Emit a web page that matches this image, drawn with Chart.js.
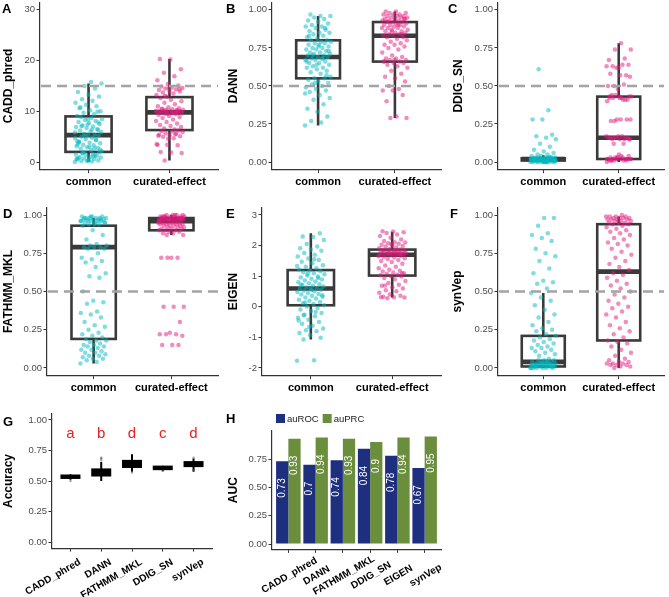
<!DOCTYPE html>
<html><head><meta charset="utf-8">
<script src="https://cdn.jsdelivr.net/npm/chart.js@4.4.1/dist/chart.umd.min.js"></script>
<style>
html,body{margin:0;padding:0;background:#fff;}
#wrap{position:relative;width:669px;height:597px;overflow:hidden;background:#fff;}
canvas{position:absolute;}
</style></head><body><div id="wrap">
<canvas id="cA"></canvas><canvas id="cB"></canvas><canvas id="cC"></canvas>
<canvas id="cD"></canvas><canvas id="cE"></canvas><canvas id="cF"></canvas>
<canvas id="cG"></canvas><canvas id="cH"></canvas>
</div>
<script>
// ---------------- DATA ----------------
const groups = ['common', 'curated-effect'];

const tick01Values = [0, 0.25, 0.5, 0.75, 1];
const tick01Labels = ['0.00', '0.25', '0.50', '0.75', '1.00'];
const caddTickValues = [0, 10, 20, 30];
const caddTickLabels = ['0', '10', '20', '30'];
const eigenTickValues = [-2, -1, 0, 1, 2, 3];
const eigenTickLabels = ['-2', '-1', '0', '1', '2', '3'];
const aucTickValues = [0, 0.25, 0.5, 0.75];
const aucTickLabels = ['0.00', '0.25', '0.50', '0.75'];

// box stats: [lower whisker, Q1, median, Q3, upper whisker]
const caddBox = [[0, 2, 5.3, 9, 15.5], [0.3, 6.3, 9.8, 12.8, 20.3]];
const dannBox = [[0.24, 0.55, 0.69, 0.80, 0.96], [0.29, 0.66, 0.83, 0.92, 0.99]];
const ddigBox = [[0.0, 0.01, 0.02, 0.025, 0.045], [0.0, 0.02, 0.16, 0.43, 0.78]];
const fathmmBox = [[0.03, 0.19, 0.79, 0.93, 0.98], [0.87, 0.90, 0.96, 0.98, 1.0]];
const eigenBox = [[-1.07, 0.05, 0.6, 1.2, 2.4], [0.3, 1.02, 1.70, 1.87, 2.45]];
const synvepBox = [[0.0, 0.01, 0.04, 0.21, 0.49], [0.0, 0.18, 0.63, 0.94, 0.99]];

const caddCommon = [0.0,0.1,0.2,0.3,0.3,0.5,0.6,0.7,0.9,1.0,1.0,1.2,1.3,1.5,1.6,1.8,1.9,0.4,0.8,1.4,
 2.0,2.2,2.3,2.6,2.8,2.9,3.1,3.3,3.4,3.7,3.8,4.0,4.3,4.5,4.7,4.8,5.0,5.2,5.3,3.5,
 5.4,5.6,5.9,6.0,6.2,6.5,6.7,6.9,7.0,7.2,7.5,7.7,7.9,8.1,8.3,8.5,8.7,8.9,6.3,7.4,
 9.1,9.4,9.7,10.0,10.2,10.6,11.0,11.3,11.7,12.1,12.4,12.9,13.3,13.8,14.5,15.0,15.5,15.8,10.8,9.9,
 0.2,0.6,1.1,1.7,2.4,3.0,3.9,4.4,5.1,5.8,6.4,7.1,7.8,8.4,4.1,2.7];
const caddCurated = [0.3,1.8,1.9,2.0,3.3,3.4,3.5,4.7,5.0,5.1,5.3,5.4,5.6,5.7,5.9,6.0,6.1,6.2,4.6,3.4,
 6.4,6.6,6.9,7.1,7.3,7.6,7.9,8.1,8.4,8.7,8.9,9.1,9.3,9.4,9.5,9.6,9.6,9.7,9.8,9.5,
 9.9,9.9,10.0,10.0,10.1,10.1,10.2,10.3,10.3,10.4,10.5,10.6,10.8,11.0,11.4,11.7,12.0,12.3,12.6,10.2,
 12.9,13.2,13.5,13.7,13.9,14.0,14.2,14.3,14.5,14.6,14.7,14.9,15.1,15.4,16.1,16.9,17.6,18.3,20.2,20.3,
 9.7,10.0,10.1,9.8,10.4,14.4,14.6,5.2,5.5,13.0];

const dannCommon = [0.24,0.26,0.27,0.30,0.33,0.35,0.38,0.41,0.42,0.44,0.46,0.47,0.48,0.49,0.50,0.51,0.52,0.53,0.54,0.55,
 0.55,0.56,0.58,0.59,0.60,0.61,0.62,0.62,0.63,0.64,0.65,0.65,0.66,0.67,0.67,0.68,0.68,0.69,0.69,0.70,
 0.70,0.71,0.71,0.72,0.72,0.73,0.74,0.74,0.75,0.75,0.76,0.76,0.77,0.78,0.78,0.79,0.79,0.80,0.80,0.81,
 0.82,0.83,0.84,0.85,0.85,0.86,0.87,0.88,0.89,0.89,0.90,0.91,0.92,0.93,0.94,0.95,0.96,0.96,0.97,0.57,
 0.64,0.66,0.68,0.70,0.73,0.77,0.83,0.88,0.52,0.45];
const dannCurated = [0.29,0.29,0.30,0.40,0.44,0.47,0.47,0.48,0.50,0.53,0.55,0.56,0.58,0.60,0.62,0.63,0.64,0.65,0.65,0.66,
 0.66,0.67,0.67,0.68,0.68,0.69,0.70,0.72,0.74,0.75,0.76,0.77,0.77,0.78,0.79,0.80,0.81,0.82,0.82,0.83,
 0.83,0.84,0.84,0.85,0.85,0.86,0.86,0.87,0.87,0.88,0.88,0.89,0.89,0.90,0.90,0.90,0.91,0.91,0.92,0.92,
 0.92,0.93,0.93,0.93,0.94,0.94,0.94,0.95,0.95,0.95,0.96,0.96,0.96,0.97,0.97,0.97,0.98,0.98,0.99,0.99,
 0.84,0.86,0.88,0.90,0.92,0.94,0.67,0.66];

const ddigCommon = [0.00,0.00,0.00,0.00,0.00,0.00,0.00,0.00,0.00,0.00,0.01,0.01,0.01,0.01,0.01,0.01,0.01,0.01,0.01,0.01,
 0.01,0.01,0.02,0.02,0.02,0.02,0.02,0.02,0.02,0.02,0.02,0.02,0.02,0.02,0.02,0.02,0.02,0.02,0.02,0.02,
 0.03,0.03,0.03,0.03,0.03,0.03,0.04,0.04,0.05,0.05,0.06,0.07,0.08,0.10,0.12,0.15,0.16,0.17,0.18,0.28,
 0.28,0.34,0.61,0.01,0.00,0.02,0.03,0.01,0.02,0.00,0.01,0.02,0.00,0.01,0.03,0.02,0.01,0.00];
const ddigCurated = [0.01,0.02,0.02,0.03,0.01,0.02,0.00,0.03,0.02,0.04,0.05,0.01,0.02,0.03,0.02,0.04,0.01,0.02,0.03,0.02,
 0.12,0.12,0.15,0.15,0.16,0.16,0.16,0.17,0.17,0.15,0.16,0.17,0.16,0.15,
 0.27,0.28,0.28,0.27,0.28,0.28,
 0.40,0.41,0.42,0.43,0.43,0.42,0.41,0.44,0.43,0.42,0.44,0.41,
 0.48,0.50,0.51,0.50,0.56,0.57,0.58,0.57,
 0.62,0.63,0.64,0.63,0.64,0.62,0.67,0.68,0.74,0.74,0.78,
 0.01,0.02,0.03,0.02,0.01,0.16,0.15,0.42,0.43];

const fathmmCommon = [0.03,0.04,0.05,0.06,0.06,0.07,0.08,0.08,0.09,0.10,0.10,0.11,0.12,0.12,0.13,0.14,0.14,0.15,0.15,0.16,0.17,0.18,0.18,0.19,0.20,
 0.21,0.22,0.23,0.25,0.27,0.28,0.30,0.33,0.35,0.36,0.37,0.42,0.43,0.44,0.50,
 0.59,0.60,0.62,0.66,0.69,0.70,0.71,0.72,0.75,
 0.78,0.78,0.79,0.79,0.79,0.80,0.80,0.81,0.84,0.87,0.90,
 0.93,0.94,0.94,0.95,0.95,0.95,0.96,0.96,0.96,0.96,0.97,0.97,0.97,0.97,0.98,0.98,0.98,0.98,0.98,0.99,0.99,0.99,0.97,0.96,0.95,0.94,0.98,0.97,0.99,0.96];
const fathmmCurated = [0.87,0.87,0.88,0.88,0.89,0.89,0.90,0.90,0.90,0.91,0.91,0.91,0.92,0.92,0.92,0.93,0.93,0.93,0.93,0.94,
 0.94,0.94,0.94,0.95,0.95,0.95,0.95,0.95,0.96,0.96,0.96,0.96,0.96,0.96,0.97,0.97,0.97,0.97,0.97,0.97,
 0.97,0.98,0.98,0.98,0.98,0.98,0.98,0.98,0.99,0.99,0.99,0.99,0.99,0.99,1.00,1.00,1.00,1.00,0.99,0.98,
 0.97,0.96,1.00,0.99,0.98,
 0.72,0.72,0.72,0.72,0.40,0.40,0.40,0.30,0.23,0.22,0.22,0.22,0.21,0.15,0.15,0.15];

const eigenCommon = [-1.76,-1.75,-1.07,-1.01,-0.93,-0.86,-0.80,-0.77,-0.71,-0.62,-0.55,-0.50,-0.42,-0.36,-0.31,-0.26,-0.20,-0.14,-0.09,-0.04,0.01,0.05,
 0.09,0.12,0.16,0.20,0.23,0.27,0.30,0.33,0.36,0.40,0.42,0.45,0.48,0.51,0.53,0.56,0.58,0.60,0.61,
 0.63,0.66,0.69,0.71,0.74,0.77,0.80,0.83,0.86,0.89,0.92,0.96,0.99,1.02,1.06,1.10,1.13,1.16,1.19,
 1.22,1.26,1.31,1.36,1.42,1.47,1.53,1.58,1.64,1.70,1.76,1.83,1.87,1.91,1.97,2.05,2.18,2.28,2.30,2.40,
 -0.66,-0.45,-0.17,0.14,0.38,0.55,0.72,0.94,1.08,1.33,1.55,-0.28];
const eigenCurated = [0.28,0.30,0.31,0.33,0.36,0.40,0.46,0.51,0.54,0.60,0.64,0.69,0.72,0.78,0.84,0.90,0.94,0.99,1.01,1.03,
 1.05,1.08,1.10,1.12,1.15,1.18,1.21,1.26,1.31,1.35,1.41,1.46,1.50,1.53,1.56,1.59,1.61,1.63,1.66,1.68,
 1.69,1.70,1.71,1.72,1.73,1.74,1.75,1.75,1.76,1.77,1.78,1.79,1.80,1.81,1.82,1.83,1.84,1.85,1.86,1.87,
 1.89,1.91,1.94,1.97,1.99,2.01,2.03,2.06,2.08,2.10,2.11,2.15,2.20,2.26,2.31,2.36,2.41,2.44,2.46,2.47,
 1.72,1.78,1.65,1.83,0.70,1.10,2.05,0.31];

const synvepCommon = [0.00,0.00,0.00,0.00,0.00,0.00,0.01,0.01,0.01,0.01,0.01,0.01,0.01,0.02,0.02,0.02,0.02,0.02,0.02,0.03,
 0.03,0.03,0.03,0.03,0.04,0.04,0.04,0.04,0.05,0.05,0.05,0.01,0.02,0.03,0.00,0.04,0.02,0.01,0.03,0.02,
 0.06,0.08,0.09,0.10,0.11,0.12,0.13,0.13,0.14,0.15,0.16,0.17,0.18,0.19,0.20,0.21,
 0.22,0.24,0.25,0.26,0.28,0.30,0.33,0.35,0.38,0.41,0.44,0.46,0.49,
 0.52,0.55,0.56,0.57,0.62,0.65,0.70,0.73,0.75,0.78,0.83,0.85,0.87,0.88,0.93,0.98,0.98];
const synvepCurated = [0.00,0.01,0.01,0.02,0.02,0.02,0.03,0.03,0.03,0.04,0.04,0.05,0.06,0.08,0.10,0.12,0.14,0.16,0.17,0.18,
 0.20,0.22,0.24,0.26,0.28,0.30,0.33,0.35,0.37,0.39,0.40,0.42,0.44,0.46,0.48,0.50,0.52,0.54,0.55,0.57,0.59,0.61,0.62,
 0.64,0.66,0.68,0.70,0.72,0.74,0.76,0.78,0.80,0.81,0.82,0.84,0.85,0.87,0.88,0.89,0.90,0.91,0.92,0.93,
 0.94,0.94,0.95,0.95,0.95,0.96,0.96,0.96,0.97,0.97,0.97,0.97,0.98,0.98,0.98,0.98,0.99,0.99,0.99,0.99,1.00];

// Panel G
const accMethods = ['CADD_phred', 'DANN', 'FATHMM_MKL', 'DDIG_SN', 'synVep'];
const accBox = [[0.51, 0.525, 0.535, 0.545, 0.555], [0.50, 0.545, 0.57, 0.595, 0.655],
  [0.575, 0.615, 0.64, 0.665, 0.72], [0.58, 0.597, 0.608, 0.618, 0.625], [0.575, 0.622, 0.64, 0.655, 0.685]];
const accOutliers = [[0.50], [0.67, 0.685, 0.69], [0.57], [0.585], [0.59, 0.69]];
const accLetters = ['a', 'b', 'd', 'c', 'd'];

// Panel H
const aucMethods = ['CADD_phred', 'DANN', 'FATHMM_MKL', 'DDIG_SN', 'EIGEN', 'synVep'];
const auROC = [0.73, 0.70, 0.74, 0.84, 0.78, 0.67];
const auPRC = [0.93, 0.94, 0.93, 0.90, 0.94, 0.95];

// ---------------- STYLE / LAYOUT ----------------
const FONT = "'Liberation Sans', Arial, Helvetica, sans-serif";
const CYAN = 'rgba(0,186,194,0.5)';
const PINK = 'rgba(228,26,125,0.5)';
const NAVY = '#1f2f80';
const OLIVE = '#6a8e3c';
const AXIS = '#333333';
const BOXC = '#3a3a3a';

function jitter(i) { // deterministic horizontal spread for the jittered dots
  const f = (i * 0.6180339887) % 1;
  return (f - 0.5) * 0.34;
}

function place(canvas, g) {
  canvas.width = g.cw; canvas.height = g.ch;
  canvas.style.left = g.cl + 'px'; canvas.style.top = g.ct + 'px';
  canvas.style.width = g.cw + 'px'; canvas.style.height = g.ch + 'px';
}

function xScale(g, cats, showLabels) {
  return {
    type: 'linear', min: 0.4, max: cats.length + 0.6, offset: false,
    afterBuildTicks: s => { s.ticks = cats.map((c, i) => ({value: i + 1})); },
    afterFit: s => { s.height = g.ct + g.ch - g.b; s.paddingLeft = 0; s.paddingRight = 0; },
    ticks: { display: showLabels, callback: (v, i) => cats[i], autoSkip: false, minRotation: 0, maxRotation: 0,
      font: {family: FONT, size: 11, weight: 'bold'}, color: '#000', padding: 2 },
    grid: { offset: false, drawOnChartArea: false, drawTicks: true, tickLength: 3.5, color: AXIS, lineWidth: 1 },
    border: { display: true, color: AXIS, width: 1.2 }
  };
}
function yScale(g, min, max, vals, labels, title, titlePad) {
  return {
    type: 'linear', min, max,
    afterBuildTicks: s => { s.ticks = vals.map(v => ({value: v})); },
    afterFit: s => { s.width = g.l - g.cl; s.paddingTop = 0; s.paddingBottom = 0; },
    ticks: { callback: (v, i) => labels[i], font: {family: FONT, size: 9.5}, color: '#4d4d4d', padding: 1.5 },
    grid: { drawOnChartArea: false, drawTicks: true, tickLength: 3.5, color: AXIS, lineWidth: 1 },
    border: { display: true, color: AXIS, width: 1.2 },
    title: { display: true, text: title, color: '#000', font: {family: FONT, size: 12, weight: 'bold'},
      padding: {top: titlePad, bottom: 0} }
  };
}
function layoutPad(g) {
  return {left: 0, top: g.t - g.ct, right: g.cl + g.cw - g.r, bottom: 0};
}

function decor(o) {
  return {
    id: 'decor',
    beforeDatasetsDraw(chart) {
      if (!o.boxes) return;
      const {ctx} = chart; const x = chart.scales.x, y = chart.scales.y;
      o.boxes.forEach((b, i) => {
        const cx = x.getPixelForValue(i + 1);
        const hw = x.getPixelForValue(1 + o.boxWidth / 2) - x.getPixelForValue(1);
        const p = b.map(v => y.getPixelForValue(v));
        ctx.save();
        ctx.strokeStyle = o.boxColor; ctx.fillStyle = o.boxColor;
        ctx.lineWidth = o.whisker;
        ctx.beginPath();
        ctx.moveTo(cx, p[0]); ctx.lineTo(cx, p[1]);
        ctx.moveTo(cx, p[3]); ctx.lineTo(cx, p[4]);
        ctx.stroke();
        if (o.filled) {
          ctx.fillRect(cx - hw, p[3] - 1, 2 * hw, p[1] - p[3] + 2);
        } else {
          ctx.lineWidth = o.boxLine;
          ctx.strokeRect(cx - hw, p[3], 2 * hw, p[1] - p[3]);
          ctx.lineWidth = o.medianLine;
          ctx.beginPath(); ctx.moveTo(cx - hw, p[2]); ctx.lineTo(cx + hw, p[2]); ctx.stroke();
        }
        ctx.restore();
      });
    },
    afterDatasetsDraw(chart) {
      const {ctx, chartArea} = chart; const x = chart.scales.x, y = chart.scales.y;
      if (o.hline !== undefined) {
        const py = y.getPixelForValue(o.hline);
        ctx.save();
        ctx.strokeStyle = '#a3a3a3'; ctx.lineWidth = 2.5; ctx.setLineDash([10, 6]);
        ctx.beginPath(); ctx.moveTo(chartArea.left + 1, py); ctx.lineTo(chartArea.right, py); ctx.stroke();
        ctx.restore();
      }
      if (o.letters) {
        ctx.save();
        ctx.fillStyle = '#e8211e'; ctx.font = `15px ${FONT}`;
        ctx.textAlign = 'center'; ctx.textBaseline = 'middle';
        o.letters.forEach((t, i) => ctx.fillText(t, x.getPixelForValue(i + 1), y.getPixelForValue(o.letterY)));
        ctx.restore();
      }
      if (o.barLabels) {
        ctx.save();
        ctx.fillStyle = '#ffffff'; ctx.font = `10px ${FONT}`;
        chart.data.datasets.forEach((ds, di) => {
          chart.getDatasetMeta(di).data.forEach((bar, i) => {
            ctx.save();
            ctx.translate(bar.x, bar.y + 17);
            ctx.rotate(-Math.PI / 2);
            ctx.textAlign = 'right'; ctx.textBaseline = 'middle';
            ctx.fillText(String(ds.data[i].y), 0, 0);
            ctx.restore();
          });
        });
        ctx.restore();
      }
    },
    afterDraw(chart) {
      const {ctx} = chart; const x = chart.scales.x;
      ctx.save();
      ctx.fillStyle = '#000'; ctx.font = `bold 13px ${FONT}`;
      ctx.textAlign = 'left'; ctx.textBaseline = 'alphabetic';
      ctx.fillText(o.panel, o.px, o.py);
      if (o.rotLabels) {
        const r = o.rotLabels;
        ctx.font = `bold 10px ${FONT}`; ctx.fillStyle = '#000';
        r.cats.forEach((t, i) => {
          ctx.save();
          ctx.translate(x.getPixelForValue(i + 1) + r.dx, x.bottom - x.height + r.dy);
          ctx.rotate(-Math.PI / 6);
          ctx.textAlign = r.align; ctx.textBaseline = r.baseline;
          ctx.fillText(t, 0, 0);
          ctx.restore();
        });
      }
      if (o.legend) {
        ctx.font = `9.5px ${FONT}`; ctx.textBaseline = 'middle';
        let lx = o.legend.x;
        chart.data.datasets.forEach(ds => {
          ctx.fillStyle = ds.backgroundColor;
          ctx.fillRect(lx, o.legend.y - 4.5, 9, 9);
          ctx.fillStyle = '#222';
          ctx.fillText(ds.label, lx + 11, o.legend.y + 0.5);
          lx += 11 + ctx.measureText(ds.label).width + 4;
        });
      }
      ctx.restore();
    }
  };
}

function boxPanel(id, g, o) {
  const canvas = document.getElementById(id);
  place(canvas, g);
  const datasets = o.points.map((vals, gi) => ({
    type: 'scatter',
    data: vals.map((v, i) => ({x: gi + 1 + jitter(i + gi * 7), y: v})),
    backgroundColor: [CYAN, PINK][gi], pointRadius: 2.25, pointHoverRadius: 2.25, borderWidth: 0
  }));
  new Chart(canvas, {
    type: 'scatter',
    data: {datasets},
    options: {
      responsive: false, animation: false, events: [],
      layout: {padding: layoutPad(g)},
      plugins: {legend: {display: false}, tooltip: {enabled: false}},
      scales: { x: xScale(g, groups, true), y: yScale(g, o.min, o.max, o.tv, o.tl, o.title, o.titlePad) }
    },
    plugins: [decor({boxes: o.boxes, boxWidth: 0.57, boxColor: BOXC, whisker: 2.6, boxLine: 2.6, medianLine: 4.6,
      hline: o.hline, panel: o.panel, px: o.px - g.cl, py: o.py - g.ct})]
  });
}

// Row 1
boxPanel('cA', {cl: 0, ct: 0, cw: 223, ch: 195, l: 40, t: 1.35, r: 218, b: 169.65},
  {points: [caddCommon, caddCurated], boxes: caddBox, min: -1.5, max: 31.5, tv: caddTickValues, tl: caddTickLabels,
   title: 'CADD_phred', titlePad: 1.3, hline: 15, panel: 'A', px: 2, py: 13});
boxPanel('cB', {cl: 223, ct: 0, cw: 223, ch: 195, l: 272, t: 1.35, r: 441, b: 169.65},
  {points: [dannCommon, dannCurated], boxes: dannBox, min: -0.05, max: 1.05, tv: tick01Values, tl: tick01Labels,
   title: 'DANN', titlePad: 3.8, hline: 0.5, panel: 'B', px: 226, py: 13});
boxPanel('cC', {cl: 446, ct: 0, cw: 223, ch: 195, l: 498, t: 1.35, r: 664, b: 169.65},
  {points: [ddigCommon, ddigCurated], boxes: ddigBox, min: -0.05, max: 1.05, tv: tick01Values, tl: tick01Labels,
   title: 'DDIG_SN', titlePad: 5.3, hline: 0.5, panel: 'C', px: 448, py: 13});
// Row 2
boxPanel('cD', {cl: 0, ct: 195, cw: 223, ch: 200, l: 47, t: 207.35, r: 218, b: 375.65},
  {points: [fathmmCommon, fathmmCurated], boxes: fathmmBox, min: -0.05, max: 1.05, tv: tick01Values, tl: tick01Labels,
   title: 'FATHMM_MKL', titlePad: 1.3, hline: 0.5, panel: 'D', px: 3, py: 218});
boxPanel('cE', {cl: 223, ct: 195, cw: 223, ch: 200, l: 262, t: 207.35, r: 441, b: 375.65},
  {points: [eigenCommon, eigenCurated], boxes: eigenBox, min: -2.25, max: 3.25, tv: eigenTickValues, tl: eigenTickLabels,
   title: 'EIGEN', titlePad: 3.8, hline: undefined, panel: 'E', px: 226, py: 218});
boxPanel('cF', {cl: 446, ct: 195, cw: 223, ch: 200, l: 498, t: 207.35, r: 664, b: 375.65},
  {points: [synvepCommon, synvepCurated], boxes: synvepBox, min: -0.05, max: 1.05, tv: tick01Values, tl: tick01Labels,
   title: 'synVep', titlePad: 4.8, hline: 0.5, panel: 'F', px: 450, py: 218});

// Panel G
(function () {
  const g = {cl: 0, ct: 395, cw: 223, ch: 202, l: 52, t: 413.9, r: 212, b: 548.1};
  const canvas = document.getElementById('cG'); place(canvas, g);
  const pts = [];
  accOutliers.forEach((arr, i) => arr.forEach(v => pts.push({x: i + 1, y: v})));
  new Chart(canvas, {
    type: 'scatter',
    data: {datasets: [{data: pts, backgroundColor: 'rgba(90,90,90,0.55)', pointRadius: 1.2, borderWidth: 0}]},
    options: {
      responsive: false, animation: false, events: [],
      layout: {padding: layoutPad(g)},
      plugins: {legend: {display: false}, tooltip: {enabled: false}},
      scales: { x: xScale(g, accMethods, false), y: yScale(g, -0.05, 1.05, tick01Values, tick01Labels, 'Accuracy', 1.3) }
    },
    plugins: [decor({boxes: accBox, boxWidth: 0.65, boxColor: '#000', whisker: 2, filled: true,
      letters: accLetters, letterY: 0.885, panel: 'G', px: 3 - g.cl, py: 426 - g.ct,
      rotLabels: {cats: accMethods, dx: 7, dy: 9, align: 'right', baseline: 'top'}})]
  });
})();

// Panel H
(function () {
  const g = {cl: 223, ct: 395, cw: 223, ch: 202, l: 272, t: 431, r: 441, b: 549.4};
  const canvas = document.getElementById('cH'); place(canvas, g);
  new Chart(canvas, {
    type: 'bar',
    data: {datasets: [
      {label: 'auROC', data: auROC.map((v, i) => ({x: i + 1, y: v})), backgroundColor: NAVY,
       categoryPercentage: 0.9, barPercentage: 1.0, borderWidth: 0},
      {label: 'auPRC', data: auPRC.map((v, i) => ({x: i + 1, y: v})), backgroundColor: OLIVE,
       categoryPercentage: 0.9, barPercentage: 1.0, borderWidth: 0}
    ]},
    options: {
      responsive: false, animation: false, events: [],
      layout: {padding: layoutPad(g)},
      plugins: {legend: {display: false}, tooltip: {enabled: false}},
      scales: { x: xScale(g, aucMethods, false), y: yScale(g, -0.0475, 0.9975, aucTickValues, aucTickLabels, 'AUC', 3.8) }
    },
    plugins: [decor({barLabels: true, panel: 'H', px: 226 - g.cl, py: 423 - g.ct, legend: {x: 276 - g.cl, y: 418.5 - g.ct},
      rotLabels: {cats: aucMethods, dx: 1, dy: 26, align: 'center', baseline: 'middle'}})]
  });
})();
</script>
</body></html>
